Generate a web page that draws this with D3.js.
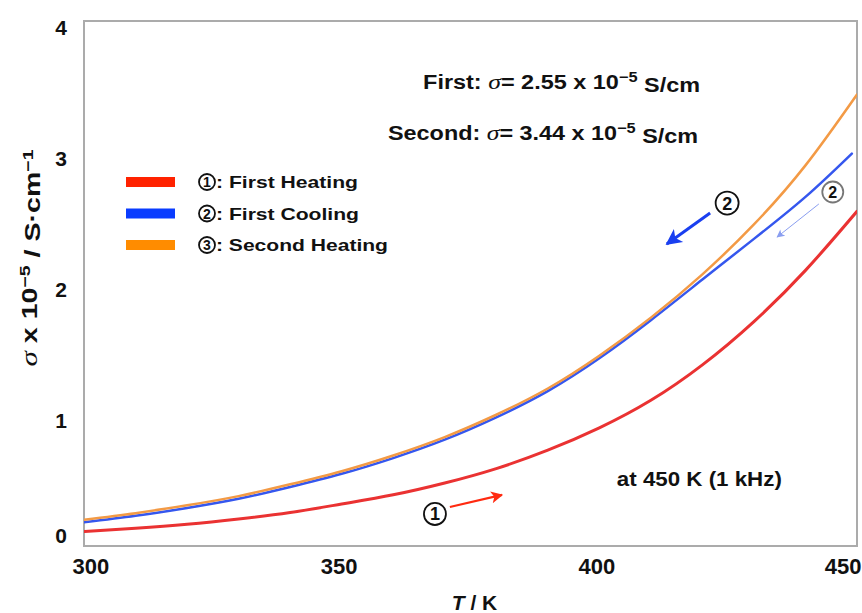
<!DOCTYPE html>
<html>
<head>
<meta charset="utf-8">
<script src="https://cdn.jsdelivr.net/npm/d3@7"></script>
<style>
  body { margin: 0; background: #fff; }
  svg { display: block; }
  text { font-family: "Liberation Sans", Arial, Helvetica, sans-serif; font-weight: bold; fill: #111; }
  .sym { font-family: "Liberation Serif", "Times New Roman", serif; font-style: italic; font-weight: normal; }
</style>
</head>
<body>
<svg id="chart" width="862" height="613"></svg>
<script>
// Conductivity (x 10^-5 S/cm) versus temperature (K)
const temps = [300, 310, 320, 330, 340, 350, 360, 370, 380, 390, 400, 410, 420, 430, 440, 450];
const firstHeating  = [0.11, 0.135, 0.165, 0.205, 0.255, 0.32, 0.39, 0.48, 0.59, 0.73, 0.90, 1.11, 1.38, 1.71, 2.10, 2.55];
const coolingTemps  = [300, 310, 320, 330, 340, 350, 360, 370, 380, 390, 400, 410, 420, 430, 440, 449];
const firstCooling  = [0.18, 0.23, 0.29, 0.36, 0.45, 0.55, 0.67, 0.81, 0.98, 1.18, 1.43, 1.72, 2.03, 2.34, 2.66, 2.99];
const secondHeating = [0.20, 0.25, 0.31, 0.38, 0.47, 0.57, 0.69, 0.83, 1.00, 1.20, 1.45, 1.74, 2.07, 2.45, 2.90, 3.44];

const xTicks = [300, 350, 400, 450];
const yTicks = [0, 1, 2, 3, 4];
const legendNames = ["First Heating", "First Cooling", "Second Heating"];
const resultNames = ["First", "Second"];
const resultValues = [2.55, 3.44];

const plot = { left: 84, top: 21, right: 857, bottom: 546 };

const svg = d3.select("#chart");

const x = d3.scaleLinear().domain([300, 450]).range([plot.left, plot.right]);
const y = d3.scaleLinear().domain([0, 4]).range([plot.bottom, plot.top]);

// clip for curves
const defs = svg.append("defs");
defs.append("clipPath").attr("id", "plotClip")
  .append("rect")
  .attr("x", plot.left).attr("y", plot.top)
  .attr("width", plot.right - plot.left).attr("height", plot.bottom - plot.top);

// arrowhead markers
function marker(id, color, w, h) {
  defs.append("marker")
    .attr("id", id)
    .attr("viewBox", "0 0 10 10")
    .attr("refX", 9).attr("refY", 5)
    .attr("markerUnits", "userSpaceOnUse")
    .attr("markerWidth", w).attr("markerHeight", h)
    .attr("orient", "auto")
    .append("path").attr("d", "M0,0 L10,5 L0,10 L2.5,5 Z").attr("fill", color);
}
marker("headRed", "#ff2a10", 18, 12);
marker("headBlue", "#1a3ff0", 22, 16);
marker("headFaint", "#8a9ef0", 10, 8);

// frame
svg.append("rect")
  .attr("x", plot.left).attr("y", plot.top)
  .attr("width", plot.right - plot.left).attr("height", plot.bottom - plot.top)
  .attr("fill", "none").attr("stroke", "#ababab").attr("stroke-width", 2);

// curves
const series = [
  { t: temps, v: firstHeating, color: "#ea3232", width: 3 },
  { t: coolingTemps, v: firstCooling, color: "#3557ee", width: 2.5 },
  { t: temps, v: secondHeating, color: "#f39a45", width: 2.5 }
];
const line = d3.line().x(d => x(d[0])).y(d => y(d[1])).curve(d3.curveNatural);
const curves = svg.append("g").attr("clip-path", "url(#plotClip)");
series.forEach(s => {
  curves.append("path")
    .datum(s.t.map((t, i) => [t, s.v[i]]))
    .attr("d", line)
    .attr("fill", "none")
    .attr("stroke", s.color)
    .attr("stroke-width", s.width)
    .attr("stroke-linecap", "round")
    .attr("stroke-linejoin", "round");
});

// x axis
const xAxis = svg.append("g")
  .attr("transform", `translate(0,${plot.bottom})`)
  .call(d3.axisBottom(x).tickValues(xTicks).tickSize(0).tickPadding(12).tickFormat(d3.format("d")));
xAxis.select(".domain").remove();
xAxis.selectAll("text")
  .style("font-size", "22px").style("font-family", null)
  .attr("fill", "#111")
  .attr("text-anchor", d => d === xTicks[0] ? "start" : d === xTicks[xTicks.length - 1] ? "end" : "middle")
  .attr("dx", d => d === xTicks[0] ? -12 : d === xTicks[xTicks.length - 1] ? 4 : -3);

// y axis
const yAxis = svg.append("g")
  .attr("transform", `translate(${plot.left},0)`)
  .call(d3.axisLeft(y).tickValues(yTicks).tickSize(0).tickPadding(17).tickFormat(d3.format("d")));
yAxis.select(".domain").remove();
yAxis.selectAll("text")
  .style("font-size", "21px").style("font-family", null)
  .attr("fill", "#111")
  .attr("dy", d => d === 0 ? "-0.15em" : "0.62em");

// axis titles
const xTitle = svg.append("text")
  .attr("x", (plot.left + plot.right) / 2 + 4).attr("y", 610)
  .attr("text-anchor", "middle").style("font-size", "21px");
xTitle.append("tspan").style("font-style", "italic").text("T");
xTitle.append("tspan").text(" / K");

const yTitle = svg.append("text")
  .attr("transform", "translate(37,258) rotate(-90)")
  .attr("text-anchor", "middle").style("font-size", "22px")
  .attr("textLength", 217).attr("lengthAdjust", "spacingAndGlyphs");
yTitle.append("tspan").attr("class", "sym").style("font-size", "24px").text("σ");
yTitle.append("tspan").text(" x 10");
yTitle.append("tspan").attr("dy", "-0.45em").style("font-size", "15px").text("−5");
yTitle.append("tspan").attr("dy", "0.45em").text(" / S·cm");
yTitle.append("tspan").attr("dy", "-0.45em").style("font-size", "15px").text("−1");

// circled step number
function circled(g, cx, cy, r, num, color, size) {
  g.append("circle").attr("cx", cx).attr("cy", cy).attr("r", r)
    .attr("fill", "#fff").attr("stroke", color).attr("stroke-width", 1.8);
  g.append("text").attr("x", cx).attr("y", cy).attr("dy", "0.36em")
    .attr("text-anchor", "middle").style("font-size", size + "px")
    .attr("fill", color).text(num);
}

// legend
const legend = svg.append("g");
const legendColors = ["#ff2200", "#0a3cff", "#ff8c00"];
const legendTop = 182, legendStep = 31.5;
const legendLengths = [142, 143, 172];
legendNames.forEach((name, i) => {
  const ly = legendTop + i * legendStep;
  legend.append("line")
    .attr("x1", 126).attr("x2", 175).attr("y1", ly).attr("y2", ly)
    .attr("stroke", legendColors[i]).attr("stroke-width", 10);
  circled(legend, 207, ly, 8, i + 1, "#111", 14);
  legend.append("text")
    .attr("x", 216).attr("y", ly).attr("dy", "0.36em")
    .style("font-size", "17px")
    .attr("textLength", legendLengths[i])
    .attr("lengthAdjust", "spacingAndGlyphs")
    .text(": " + name);
});

// conductivity results at 450 K
const resultStarts = [[365.8, 3.482], [359.0, 3.093]];
const resultLengths = [277, 310];
resultNames.forEach((name, i) => {
  const t = svg.append("text")
    .attr("x", x(resultStarts[i][0])).attr("y", y(resultStarts[i][1]))
    .style("font-size", "20px")
    .attr("textLength", resultLengths[i]).attr("lengthAdjust", "spacingAndGlyphs");
  t.append("tspan").text(name + ": ");
  t.append("tspan").attr("class", "sym").style("font-size", "22px").text("σ");
  t.append("tspan").text("= " + resultValues[i].toFixed(2) + " x 10");
  t.append("tspan").attr("dy", "-0.5em").style("font-size", "14px").text("−5");
  t.append("tspan").attr("dy", "0.5em").text(" S/cm");
});

svg.append("text")
  .attr("x", x(403.4)).attr("y", y(0.457))
  .style("font-size", "20px")
  .attr("textLength", 165).attr("lengthAdjust", "spacingAndGlyphs")
  .text("at 450 K (1 kHz)");

// direction arrows
const ann = svg.append("g");
ann.append("line")
  .attr("x1", x(371.0)).attr("y1", y(0.297)).attr("x2", x(381.1)).attr("y2", y(0.389))
  .attr("stroke", "#ff2a10").attr("stroke-width", 2.2).attr("marker-end", "url(#headRed)");
circled(ann, x(368.1), y(0.244), 11, 1, "#111", 18);

ann.append("line")
  .attr("x1", x(421.5)).attr("y1", y(2.537)).attr("x2", x(413.1)).attr("y2", y(2.301))
  .attr("stroke", "#1a3ff0").attr("stroke-width", 3).attr("marker-end", "url(#headBlue)");
circled(ann, x(424.8), y(2.613), 11.5, 2, "#111", 18);

ann.append("line")
  .attr("x1", x(442.6)).attr("y1", y(2.606)).attr("x2", x(434.5)).attr("y2", y(2.354))
  .attr("stroke", "#8a9ef0").attr("stroke-width", 1).attr("marker-end", "url(#headFaint)");
circled(ann, x(445.3), y(2.697), 10.5, 2, "#777", 16);
</script>
</body>
</html>
